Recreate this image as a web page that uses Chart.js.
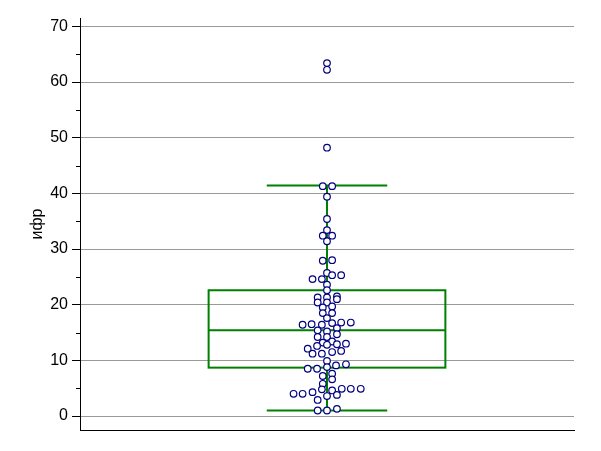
<!DOCTYPE html>
<html><head><meta charset="utf-8">
<script src="https://cdn.jsdelivr.net/npm/chart.js@4"></script>
<style>body{margin:0;background:#fff}#w{width:601px;height:451px}</style>
</head><body><div id="w"><canvas id="c"></canvas></div>
<script>
const yValues=[63.4,62.2,48.2,41.3,41.3,39.4,35.4,33.4,32.4,32.4,31.4,27.9,28.0,25.7,25.3,25.3,24.6,24.6,23.6,22.6,21.3,21.3,21.5,21.0,20.4,20.4,19.5,19.7,18.5,18.5,17.6,16.4,16.5,16.4,16.7,16.8,16.8,15.4,15.8,15.2,14.2,14.2,14.7,13.2,13.4,12.8,12.6,12.9,13.0,12.1,11.2,11.2,11.5,11.7,9.9,8.5,8.5,9.1,9.3,8.8,7.2,7.6,6.6,5.8,4.0,4.0,4.3,4.8,4.6,4.9,4.9,4.9,3.6,3.8,2.9,1.0,1.0,1.3];
const xOffsets=[0,0,0,-1.4,1.7,0,0,0,-1.4,1.7,0,-1.4,1.7,0,1.7,4.7,-4.8,-1.7,0,0,-3.1,0,3.3,3.3,-3.1,0,-1.4,1.7,-1.4,1.7,0,-8.1,-5.1,-1.7,1.7,4.7,7.9,-3.1,3.3,0,-3.1,0,3.3,-1.4,1.7,0,-3.3,3.3,6.3,-6.4,-4.8,-1.7,1.7,4.7,0,-6.4,-3.3,3,6.3,0,-1.4,1.7,1.7,-1.4,-11.1,-8.1,-4.8,-1.7,1.7,4.9,7.9,11.2,0,3.3,-3.1,-3.1,0,3.3];
const boxStats={q1:8.7,median:15.4,q3:22.6,low:1.0,high:41.4};
const boxHalf=39.3, capHalf=20;
const yTicks=[0,10,20,30,40,50,60,70];
const pts=yValues.map((v,i)=>({x:xOffsets[i],y:v}));
const boxPlugin={id:'box',beforeDatasetsDraw(ch){
  const {ctx,scales:{x,y}}=ch;ctx.save();ctx.strokeStyle='#008000';ctx.lineWidth=2;
  const cx=x.getPixelForValue(0),l=x.getPixelForValue(-boxHalf),r=x.getPixelForValue(boxHalf);
  const cl=x.getPixelForValue(-capHalf),cr=x.getPixelForValue(capHalf);
  const Y=v=>y.getPixelForValue(v);
  ctx.strokeRect(l,Y(boxStats.q3),r-l,Y(boxStats.q1)-Y(boxStats.q3));
  ctx.beginPath();
  ctx.moveTo(l,Y(boxStats.median));ctx.lineTo(r,Y(boxStats.median));
  ctx.moveTo(cx,Y(boxStats.q3));ctx.lineTo(cx,Y(boxStats.high));
  ctx.moveTo(cx,Y(boxStats.q1));ctx.lineTo(cx,Y(boxStats.low));
  ctx.moveTo(cl,Y(boxStats.high));ctx.lineTo(cr,Y(boxStats.high));
  ctx.moveTo(cl,Y(boxStats.low));ctx.lineTo(cr,Y(boxStats.low));
  ctx.stroke();
  ctx.strokeStyle='#000';ctx.lineWidth=1;ctx.beginPath();
  const ax=ch.chartArea.left;
  for(let v=5;v<70;v+=10){const p=Math.round(Y(v))+0.5;ctx.moveTo(ax-4,p);ctx.lineTo(ax,p);}
  ctx.stroke();ctx.restore();}};
new Chart(document.getElementById('c'),{type:'scatter',
 data:{datasets:[{data:pts,pointRadius:3.3,pointBorderColor:'#000080',pointBackgroundColor:'#fff',pointBorderWidth:1.2}]},
 options:{animation:false,responsive:true,maintainAspectRatio:false,
  layout:{padding:{top:18,right:27,left:28,bottom:13}},
  plugins:{legend:{display:false},tooltip:{enabled:false}},
  scales:{
   x:{min:-82,max:82,grid:{display:false},ticks:{display:false},border:{color:'#000',width:1}},
   y:{min:-2.5,max:71.5,afterBuildTicks(s){s.ticks=yTicks.map(v=>({value:v}));},
      afterFit(s){s.width=52;},
      grid:{color:'#999',tickColor:'#000',tickLength:8,drawTicks:true,tickBorderDash:[0,0]},
      border:{color:'#000',width:1},
      ticks:{color:'#000',font:{family:'Liberation Sans',size:16},padding:4},
      title:{display:true,text:'ифр',color:'#000',font:{family:'Liberation Sans',size:16},padding:{top:0,bottom:0}}}
  }},
 plugins:[boxPlugin,{id:'dash',beforeDraw(ch){ch.options.scales.y.grid.borderDash=[3,3];}}]});
Chart.getChart('c').options.scales.y.grid.borderDash=[3,3];
</script></body></html>
